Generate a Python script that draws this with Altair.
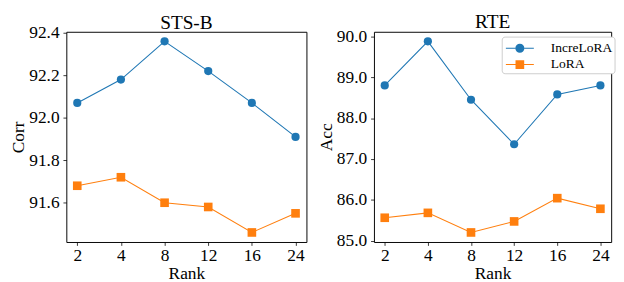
import altair as alt
import pandas as pd

ranks = ["2", "4", "8", "12", "16", "24"]
series_names = ["IncreLoRA", "LoRA"]
stsb_incre = [92.07, 92.18, 92.36, 92.22, 92.07, 91.91]
stsb_lora = [91.68, 91.72, 91.60, 91.58, 91.46, 91.55]
rte_incre = [88.80, 89.88, 88.45, 87.36, 88.58, 88.80]
rte_lora = [85.56, 85.68, 85.20, 85.47, 86.04, 85.78]
stsb_ticks = [91.6, 91.8, 92.0, 92.2, 92.4]
rte_ticks = [85.0, 86.0, 87.0, 88.0, 89.0, 90.0]
colors = ["#1f77b4", "#ff7f0e"]
marker_shapes = ["circle", "square"]
marker_sizes = [72, 80]

FONT = "Liberation Serif"


def long_df(a, b):
    rows = []
    for r, v in zip(ranks, a):
        rows.append({"rank": r, "value": v, "series": series_names[0]})
    for r, v in zip(ranks, b):
        rows.append({"rank": r, "value": v, "series": series_names[1]})
    return pd.DataFrame(rows)


def domain_for(a, b):
    lo = min(a + b)
    hi = max(a + b)
    m = (hi - lo) * 0.05
    return [lo - m, hi + m]


# legend symbols: line with marker (unit square scaled by sqrt(size)/2 = 10px)
seg = 0.05
ext = 1.45
circ_r = 0.47
sq = 0.45
incre_path = (
    f"M {-ext} {-seg} L {-circ_r} {-seg} L {-circ_r} {seg} L {-ext} {seg} Z "
    f"M {circ_r} {-seg} L {ext} {-seg} L {ext} {seg} L {circ_r} {seg} Z "
    f"M {-circ_r} 0 A {circ_r} {circ_r} 0 1 1 {circ_r} 0 A {circ_r} {circ_r} 0 1 1 {-circ_r} 0 Z"
)
lora_path = (
    f"M {-ext} {-seg} L {-sq} {-seg} L {-sq} {seg} L {-ext} {seg} Z "
    f"M {sq} {-seg} L {ext} {-seg} L {ext} {seg} L {sq} {seg} Z "
    f"M {-sq} {-sq} L {sq} {-sq} L {sq} {sq} L {-sq} {sq} Z"
)


def panel(a, b, ticks, ytitle, title, width, title_offset, show_legend):
    df = long_df(a, b)
    x = alt.X(
        "rank:O",
        sort=ranks,
        scale=alt.Scale(type="point", padding=0.25),
        axis=alt.Axis(title="Rank", labelAngle=0),
    )
    y = alt.Y(
        "value:Q",
        scale=alt.Scale(domain=domain_for(a, b), nice=False, zero=False),
        axis=alt.Axis(title=ytitle, values=ticks, format=".1f"),
    )
    layers = []
    for name, col, shp, sz in zip(series_names, colors, marker_shapes, marker_sizes):
        base = alt.Chart(df).transform_filter(alt.datum.series == name)
        layers.append(base.mark_line(strokeWidth=1.1, color=col).encode(x=x, y=y))
    for name, col, shp, sz in zip(series_names, colors, marker_shapes, marker_sizes):
        base = alt.Chart(df).transform_filter(alt.datum.series == name)
        layers.append(
            base.mark_point(filled=True, opacity=1, shape=shp, size=sz, color=col).encode(x=x, y=y)
        )
    if show_legend:
        legend = alt.Legend(
            title=None,
            orient="none",
            legendX=132.5,
            legendY=5,
            padding=2,
            labelFont=FONT,
            labelFontSize=14,
            labelColor="black",
            labelOffset=22,
            symbolSize=400,
            symbolOffset=6.8,
            symbolStrokeWidth=0,
            symbolOpacity=1,
            rowPadding=0,
            strokeColor="#cccccc",
            fillColor="white",
            cornerRadius=3,
        )
        key = alt.Chart(df).mark_point(filled=True, opacity=0).encode(
            x=x, y=y,
            color=alt.Color("series:N", scale=alt.Scale(domain=series_names, range=colors), legend=legend),
            shape=alt.Shape("series:N", scale=alt.Scale(domain=series_names, range=[incre_path, lora_path]), legend=legend),
        )
        layers.append(key)
    return alt.layer(*layers).properties(
        width=width, height=218,
        title=alt.TitleParams(title, font=FONT, fontSize=20, fontWeight="normal", color="black", offset=title_offset),
    )


left = panel(stsb_incre, stsb_lora, stsb_ticks, "Corr", "STS-B", 249, -9, False)
right = panel(rte_incre, rte_lora, rte_ticks, "Acc", "RTE", 246, -4.2, True)

chart = alt.hconcat(left, right, spacing=10).resolve_scale(
    x="independent", y="independent"
).resolve_legend(
    color="independent", shape="independent"
).configure(
    padding={"top": -1.5, "left": 1.5, "right": 0, "bottom": 0},
).configure_view(
    stroke="black", strokeWidth=1
).configure_axis(
    grid=False,
    domain=False,
    labelFont=FONT,
    labelFontSize=18,
    labelColor="black",
    titleFont=FONT,
    titleFontSize=18,
    titleFontWeight="normal",
    titleColor="black",
    tickColor="black",
    tickSize=3.5,
    tickWidth=0.8,
).configure_axisY(
    titlePadding=1,
    labelPadding=4,
).configure_axisX(
    titlePadding=0,
    labelPadding=2,
)

chart.save("out.html", embed_options={"renderer": "svg", "actions": False})
